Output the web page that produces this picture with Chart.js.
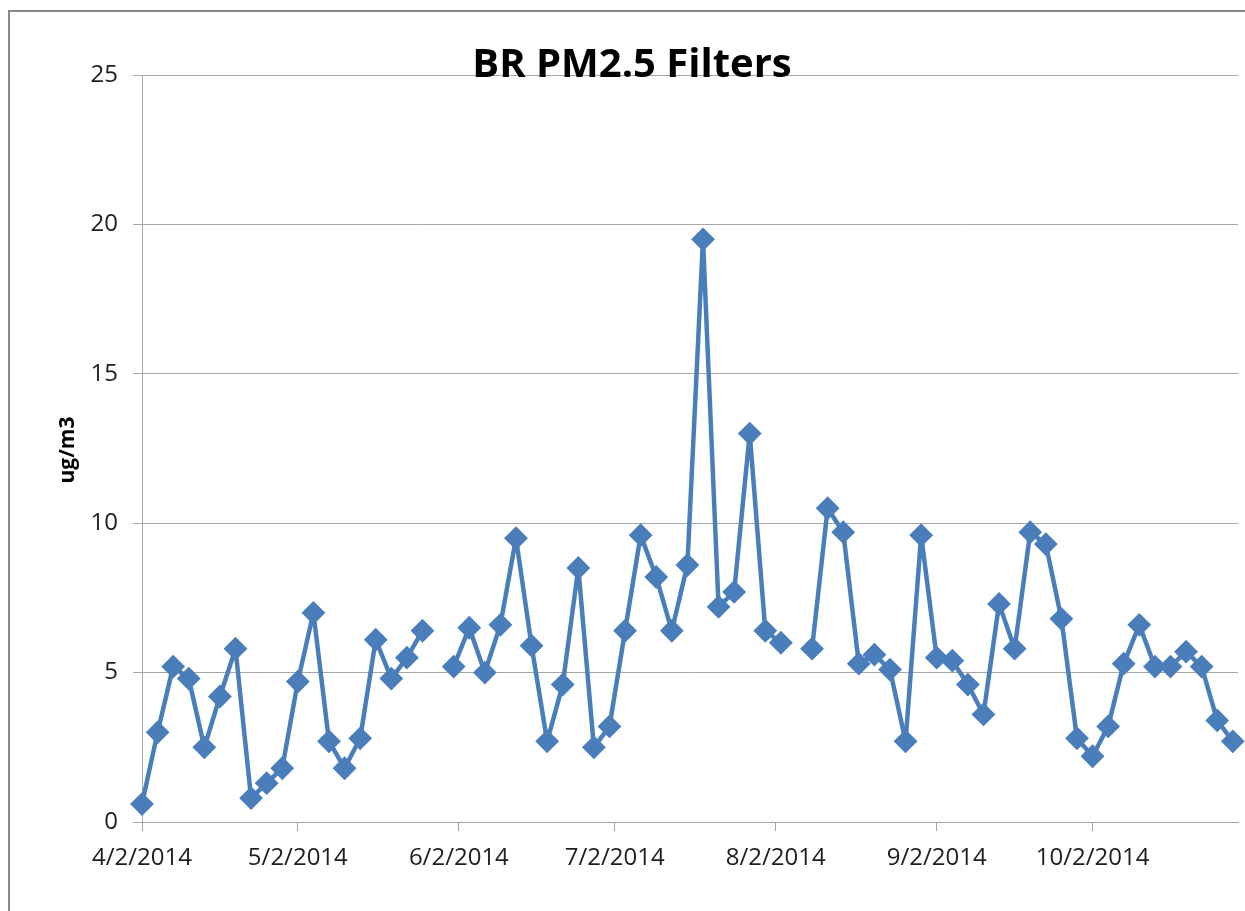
<!DOCTYPE html>
<html>
<head>
<meta charset="utf-8">
<title>BR PM2.5 Filters</title>
<script src="https://cdn.jsdelivr.net/npm/chart.js@4.4.1/dist/chart.umd.min.js"></script>
<style>
  html, body { margin: 0; padding: 0; background: #fff; overflow: hidden; }
  canvas { display: block; }
</style>
</head>
<body>
<canvas id="pm" width="1245" height="911"></canvas>
<script>
// filter sample days (every third day, two missed runs left as null)
const sampleDates = [
  '2014-04-02', '2014-04-05', '2014-04-08', '2014-04-11', '2014-04-14', '2014-04-17',
  '2014-04-20', '2014-04-23', '2014-04-26', '2014-04-29', '2014-05-02', '2014-05-05',
  '2014-05-08', '2014-05-11', '2014-05-14', '2014-05-17', '2014-05-20', '2014-05-23',
  '2014-05-26', '2014-05-29', '2014-06-01', '2014-06-04', '2014-06-07', '2014-06-10',
  '2014-06-13', '2014-06-16', '2014-06-19', '2014-06-22', '2014-06-25', '2014-06-28',
  '2014-07-01', '2014-07-04', '2014-07-07', '2014-07-10', '2014-07-13', '2014-07-16',
  '2014-07-19', '2014-07-22', '2014-07-25', '2014-07-28', '2014-07-31', '2014-08-03',
  '2014-08-06', '2014-08-09', '2014-08-12', '2014-08-15', '2014-08-18', '2014-08-21',
  '2014-08-24', '2014-08-27', '2014-08-30', '2014-09-02', '2014-09-05', '2014-09-08',
  '2014-09-11', '2014-09-14', '2014-09-17', '2014-09-20', '2014-09-23', '2014-09-26',
  '2014-09-29', '2014-10-02', '2014-10-05', '2014-10-08', '2014-10-11', '2014-10-14',
  '2014-10-17', '2014-10-20', '2014-10-23', '2014-10-26', '2014-10-29'
];

// ug/m3
const pm25 = [
  0.6, 3.0, 5.2, 4.8, 2.5, 4.2,
  5.8, 0.8, 1.3, 1.8, 4.7, 7.0,
  2.7, 1.8, 2.8, 6.1, 4.8, 5.5,
  6.4, null, 5.2, 6.5, 5.0, 6.6,
  9.5, 5.9, 2.7, 4.6, 8.5, 2.5,
  3.2, 6.4, 9.6, 8.2, 6.4, 8.6,
  19.5, 7.2, 7.7, 13.0, 6.4, 6.0,
  null, 5.8, 10.5, 9.7, 5.3, 5.6,
  5.1, 2.7, 9.6, 5.5, 5.4, 4.6,
  3.6, 7.3, 5.8, 9.7, 9.3, 6.8,
  2.8, 2.2, 3.2, 5.3, 6.6, 5.2,
  5.2, 5.7, 5.2, 3.4, 2.7
];

const monthTickDates = ['2014-04-02', '2014-05-02', '2014-06-02', '2014-07-02', '2014-08-02', '2014-09-02', '2014-10-02'];
const monthTickLabels = ['4/2/2014', '5/2/2014', '6/2/2014', '7/2/2014', '8/2/2014', '9/2/2014', '10/2/2014'];

const axisStart = '2014-04-02';
const axisEnd = '2014-10-30';

function toUTC(s) {
  const [y, m, d] = s.split('-').map(Number);
  return Date.UTC(y, m - 1, d);
}
// days since the first sample
function dayOf(s) {
  return Math.round((toUTC(s) - toUTC(axisStart)) / 86400000);
}

const points = sampleDates.map((d, i) => ({ x: dayOf(d), y: pm25[i] }));
const tickDays = monthTickDates.map(dayOf);

const blue = '#4a7ebb';
const gridGray = '#a6a6a6';
const textColor = '#1e1e1e';
const labelFont = '"Open Sans", "Liberation Sans", sans-serif';

// outer frame, title and y-axis caption
const decorations = {
  id: 'decorations',
  beforeDraw(chart) {
    const ctx = chart.ctx;
    ctx.save();
    ctx.strokeStyle = '#8a8a8a';
    ctx.lineWidth = 2;
    ctx.beginPath();
    ctx.moveTo(9, 911);
    ctx.lineTo(9, 11);
    ctx.lineTo(1245, 11);
    ctx.stroke();
    ctx.restore();
  },
  afterDraw(chart) {
    const ctx = chart.ctx;
    ctx.save();
    ctx.fillStyle = '#000';
    ctx.font = 'bold 40px ' + labelFont;
    ctx.textAlign = 'center';
    ctx.textBaseline = 'alphabetic';
    ctx.fillText('BR PM2.5 Filters', 632, 77);

    ctx.translate(68, 450);
    ctx.rotate(-Math.PI / 2);
    ctx.font = 'bold 21px ' + labelFont;
    ctx.textBaseline = 'middle';
    ctx.fillText('ug/m3', 0, 0);
    ctx.restore();
  }
};

new Chart(document.getElementById('pm').getContext('2d'), {
  type: 'line',
  data: {
    datasets: [{
      label: 'PM2.5',
      data: points,
      borderColor: blue,
      backgroundColor: blue,
      borderWidth: 4.5,
      borderJoinStyle: 'round',
      pointStyle: 'rectRot',
      pointRadius: 10.5,
      pointBorderWidth: 2,
      pointBackgroundColor: blue,
      pointBorderColor: blue,
      spanGaps: false,
      tension: 0,
      clip: 12
    }]
  },
  options: {
    responsive: false,
    animation: false,
    layout: {
      autoPadding: false,
      padding: { top: 75, right: 7, left: 0, bottom: 0 }
    },
    plugins: {
      legend: { display: false },
      title: { display: false },
      tooltip: { enabled: false }
    },
    scales: {
      x: {
        type: 'linear',
        min: dayOf(axisStart),
        max: dayOf(axisEnd),
        afterBuildTicks: (scale) => {
          scale.ticks = tickDays.map(v => ({ value: v }));
        },
        afterFit: (scale) => {
          scale.height = 89;
          scale.paddingLeft = 0;
          scale.paddingRight = 0;
        },
        grid: {
          drawOnChartArea: false,
          drawTicks: true,
          tickLength: 9,
          color: gridGray
        },
        border: { display: true, color: gridGray, width: 1 },
        ticks: {
          autoSkip: false,
          maxRotation: 0,
          padding: 13,
          color: textColor,
          font: { family: labelFont, size: 24 },
          callback: (v) => monthTickLabels[tickDays.indexOf(v)]
        }
      },
      y: {
        min: 0,
        max: 25,
        afterFit: (scale) => {
          scale.width = 142;
          scale.paddingTop = 0;
          scale.paddingBottom = 0;
        },
        grid: {
          color: gridGray,
          lineWidth: 1,
          drawTicks: true,
          tickLength: 9
        },
        border: { display: true, color: gridGray, width: 1 },
        ticks: {
          stepSize: 5,
          padding: 15,
          color: textColor,
          font: { family: labelFont, size: 24 }
        }
      }
    }
  },
  plugins: [decorations]
});
</script>
</body>
</html>
